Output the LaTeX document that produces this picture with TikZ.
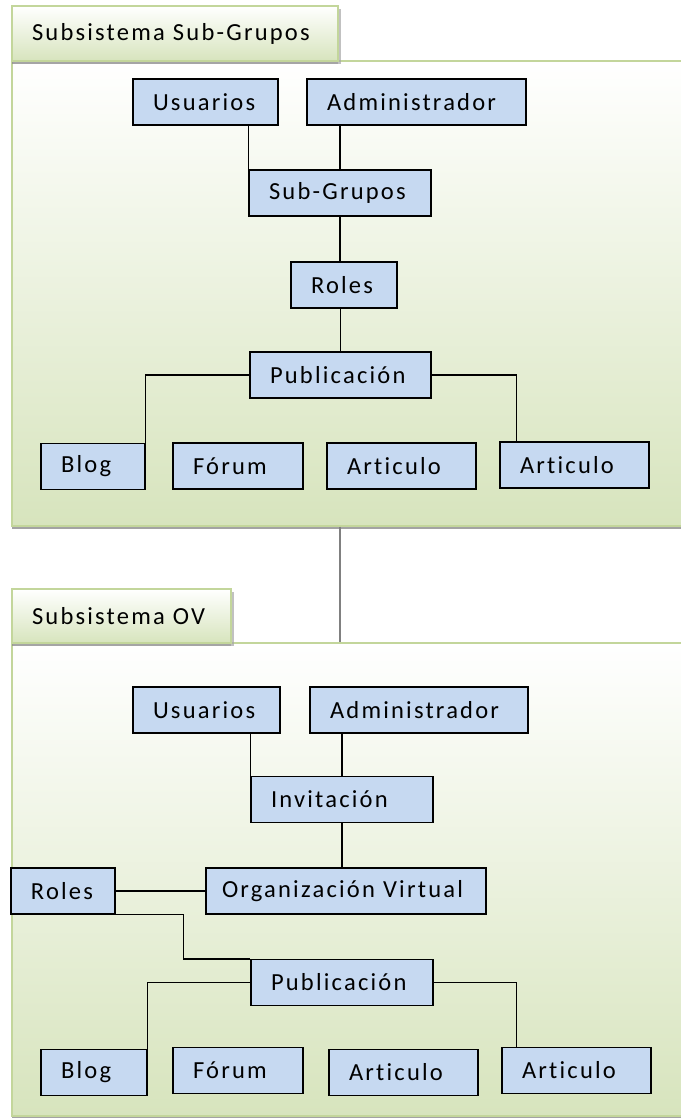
\documentclass[tikz,border=0pt]{standalone}
\usepackage{fontspec}
\usepackage{tikz}
\usetikzlibrary{positioning}
\usetikzlibrary{calc}
\usetikzlibrary{shadows}
\newfontfamily\boxfont{Carlito}[LetterSpace=9, Ligatures=NoCommon]
\definecolor{boxblue}{HTML}{C6D9F1}
\definecolor{panelgreen}{HTML}{D7E4BD}
\definecolor{panelline}{HTML}{C3D69B}
\tikzstyle{block} = [draw, rectangle, fill=boxblue, line width=0.9pt, minimum height=34.5pt, inner xsep=15pt, inner ysep=0pt, align=left, font=\boxfont\fontsize{18.4pt}{21pt}\selectfont]
\tikzstyle{panel} = [draw=panelline, rectangle, line width=0.8pt, top color=white, bottom color=panelgreen, drop shadow={shadow xshift=0pt, shadow yshift=-2.2pt, fill=black!45, opacity=0.8}]
\tikzstyle{tab} = [panel, inner xsep=15pt, align=left, font=\boxfont\fontsize{18.4pt}{21pt}\selectfont, drop shadow={shadow xshift=2pt, shadow yshift=-2.5pt, fill=black!35, opacity=0.7}]
\tikzstyle{conn} = [draw, line width=0.9pt]
\tikzstyle{link} = [draw, gray, line width=1.6pt]

\begin{document}
\begin{tikzpicture}[x=0.75pt, y=-0.75pt]
    \useasboundingbox (0,0) rectangle (681,1118);
    \clip (0,0) rectangle (681,1118);

    % Subsistema Sub-Grupos
    \node [panel, minimum width=516pt, minimum height=348.75pt] (grp1) at (356,293.5) {};
    \node [tab, minimum height=41.25pt, text width=214.5pt] (tab1) at (175,33.5) {Subsistema Sub-Grupos};

    \node [block, text width=78.75pt] (usr1) at (205.5,102) {Usuarios};
    \node [block, text width=134.25pt] (adm1) at (416.5,102) {Administrador};
    \node [block, text width=106.5pt] (sub1) at (340,193) {Sub-Grupos};
    \node [block, text width=49.5pt] (rol1) at (344,285) {Roles};
    \node [block, text width=105.75pt] (pub1) at (340.5,375) {Publicación};
    \node [block, text width=48pt] (blog1) at (93,466.5) {Blog};
    \node [block, text width=67.5pt] (foro1) at (238,466) {Fórum};
    \node [block, text width=81.75pt] (art1) at (401.5,466) {Articulo};
    \node [block, text width=81.75pt] (art2) at (574.5,465) {Articulo};

    \draw [conn] (sub1.north west) -- (sub1.north west |- usr1.south);
    \draw [conn] (sub1.north) -- (sub1.north |- adm1.south);
    \draw [conn] (sub1.south) -- (sub1.south |- rol1.north);
    \draw [conn] (pub1.north) -- (pub1.north |- rol1.south);
    \draw [conn] (pub1.west) -| (blog1.north east);
    \draw [conn] (pub1.east) -| ($(art2.north west)+(17,0)$);
    \draw [conn] ($(pub1.south west)+(28,0)$) -- ($(pub1.south west)+(28,0)$ |- foro1.north);
    \draw [conn] ($(pub1.south east)+(-20,0)$) -- ($(pub1.south east)+(-20,0)$ |- art1.north);

    % Subsistema OV
    \node [panel, minimum width=516pt, minimum height=354.75pt] (grp2) at (356,879.5) {};
    \draw [link] (grp1.south -| sub1.south) -- (grp2.north -| sub1.south);
    \node [tab, minimum height=40.5pt, text width=134.25pt] (tab2) at (121.5,616) {Subsistema OV};

    \node [block, text width=80.25pt] (usr2) at (206.5,710) {Usuarios};
    \node [block, text width=133.5pt] (adm2) at (419,710) {Administrador};
    \node [block, text width=106.5pt] (inv) at (342,799.5) {Invitación};
    \node [block, text width=48pt] (rol2) at (63,891) {Roles};
    \node [block, text width=186pt, inner xsep=12pt] (ov) at (346,891) {Organización~Virtual};
    \node [block, text width=106.5pt] (pub2) at (342,982.5) {Publicación};
    \node [block, text width=49.5pt] (blog2) at (94,1072.5) {Blog};
    \node [block, text width=67.5pt] (foro2) at (238,1070.5) {Fórum};
    \node [block, text width=81.75pt] (art3) at (403.5,1072.5) {Articulo};
    \node [block, text width=81.75pt] (art4) at (576.5,1070.5) {Articulo};

    \draw [conn] (inv.north west) -- (inv.north west |- usr2.south);
    \draw [conn] (inv.north) -- (inv.north |- adm2.south);
    \draw [conn] (inv.south) -- (inv.south |- ov.north);
    \draw [conn] (rol2.east) -- (ov.west);
    \draw [conn] (rol2.south east) -- ++(68,0) |- (pub2.north west);
    \draw [conn] (pub2.west) -| (blog2.north east);
    \draw [conn] (pub2.east) -| ($(art4.north west)+(15,0)$);
    \draw [conn] ($(pub2.south west)+(29,0)$) -- ($(pub2.south west)+(29,0)$ |- foro2.north);
    \draw [conn] ($(pub2.south east)+(-22,0)$) -- ($(pub2.south east)+(-22,0)$ |- art3.north);
\end{tikzpicture}
\end{document}
